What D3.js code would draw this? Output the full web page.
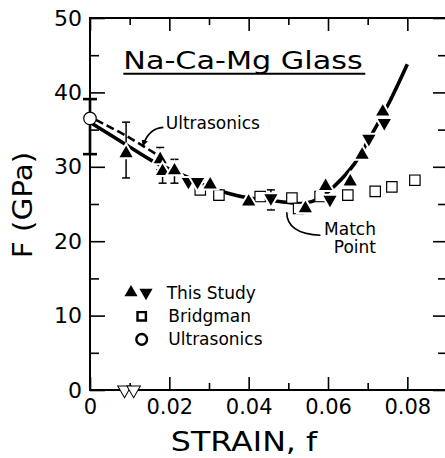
<!DOCTYPE html>
<html>
<head>
<meta charset="utf-8">
<script src="https://cdn.jsdelivr.net/npm/d3@7"></script>
<style>
	body { margin: 0; background: #fff; }
	svg { display: block; font-family: 'DejaVu Sans', sans-serif; }
</style>
</head>
<body>
<div id="js_chart"></div>
<script>
// strain f, F in GPa
const upPoints = [[0.0091, 31.8], [0.0177, 31.0], [0.0183, 29.4], [0.0213, 29.5], [0.0303, 27.6], [0.040, 25.3],
	[0.0543, 24.4], [0.0594, 27.4], [0.0656, 28.0], [0.0686, 31.6], [0.0738, 37.4]];
const downPoints = [[0.0248, 28.0], [0.0271, 28.0], [0.0456, 25.8], [0.0605, 25.6], [0.0703, 33.8], [0.0742, 35.9]];
const zeroPoints = [[0.0087, 0], [0.0110, 0]];
const bridgmanPoints = [[0.0278, 26.9], [0.0325, 26.2], [0.0429, 26.0], [0.0509, 25.8], [0.0526, 24.4], [0.058, 26.0],
	[0.0650, 26.2], [0.0719, 26.7], [0.0761, 27.3], [0.0819, 28.2]];
const ultrasonicPoints = [[0, 36.5]];
// f, low, high
const ultrasonicErrors = [[0, 31.7, 39.1]];
const studyErrors = [[0.0091, 28.5, 36.0], [0.0177, 29.6, 32.6], [0.0183, 27.8, 30.0], [0.0213, 27.8, 31.0], [0.0456, 24.2, 26.9]];
const fitCurve = [[0, 36.0], [0.009, 33.0], [0.016, 30.7], [0.02, 29.7], [0.025, 28.5], [0.03, 27.3], [0.035, 26.4],
	[0.04, 25.8], [0.045, 25.5], [0.05, 25.2], [0.054, 25.1], [0.058, 25.8], [0.062, 27.6], [0.0665, 30.3],
	[0.07, 33.4], [0.075, 38.2], [0.08, 43.8]];
const ultrasonicCurve = [[0.0015, 36.3], [0.009, 34.2], [0.017, 31.6]];
const xMajorTicks = [0, 0.02, 0.04, 0.06, 0.08];
const xMinorTicks = [0.01, 0.03, 0.05, 0.07];
const yMajorTicks = [0, 10, 20, 30, 40, 50];
const yMinorTicks = [5, 15, 25, 35, 45];
const legendLabels = ['This Study', 'Bridgman', 'Ultrasonics'];

const margin = { top: 18, left: 90 };
const innerWidth = 357;
const innerHeight = 372;

const svg = d3.select('#js_chart').append('svg')
	.attr('width', 445)
	.attr('height', 458);

svg.append('defs').append('marker')
	.attr('id', 'arrow')
	.attr('viewBox', '0 0 10 10')
	.attr('refX', 8).attr('refY', 5)
	.attr('markerWidth', 4).attr('markerHeight', 4)
	.attr('orient', 'auto')
	.append('path')
	.attr('d', 'M0,0L10,5L0,10z')
	.style('fill', '#000');

const g = svg.append('g')
	.attr('transform', 'translate(' + margin.left + ',' + margin.top + ')');

const x = d3.scaleLinear().domain([0, 0.09]).range([0, innerWidth]);
const y = d3.scaleLinear().domain([0, 50]).range([innerHeight, 0]);

function drawAxis(axis, transform, labels) {
	const a = g.append('g').attr('transform', transform).call(axis);
	a.select('.domain').remove();
	a.selectAll('line').style('stroke', '#000').style('stroke-width', 1.6);
	if (!labels) {
		a.selectAll('text').remove();
	}
	a.selectAll('text').style('font-family', 'DejaVu Sans').style('font-size', '21px').style('fill', '#000');
	return a;
}
const xFmt = function (d) { return d === 0 ? '0' : d.toFixed(2); };
drawAxis(d3.axisBottom(x).tickValues(xMajorTicks).tickSize(-13).tickPadding(9).tickFormat(xFmt), 'translate(0,' + innerHeight + ')', true);
drawAxis(d3.axisBottom(x).tickValues(xMinorTicks).tickSize(-7), 'translate(0,' + innerHeight + ')', false);
drawAxis(d3.axisTop(x).tickValues(xMajorTicks).tickSize(-13), 'translate(0,0)', false);
drawAxis(d3.axisTop(x).tickValues(xMinorTicks).tickSize(-7), 'translate(0,0)', false);
drawAxis(d3.axisLeft(y).tickValues(yMajorTicks).tickSize(-15).tickPadding(8), 'translate(0,0)', true)
	.selectAll('text').style('font-size', '22px');
drawAxis(d3.axisLeft(y).tickValues(yMinorTicks).tickSize(-9), 'translate(0,0)', false);
drawAxis(d3.axisRight(y).tickValues(yMajorTicks).tickSize(-14), 'translate(' + innerWidth + ',0)', false);
drawAxis(d3.axisRight(y).tickValues(yMinorTicks).tickSize(-9), 'translate(' + innerWidth + ',0)', false);

// frame
g.append('rect')
	.attr('width', innerWidth).attr('height', innerHeight)
	.style('fill', 'none').style('stroke', '#000').style('stroke-width', 2);

// curves
const line = d3.line()
	.x(function (d) { return x(d[0]); })
	.y(function (d) { return y(d[1]); })
	.curve(d3.curveCatmullRom);
g.append('path').datum(fitCurve)
	.attr('d', line)
	.style('fill', 'none').style('stroke', '#000').style('stroke-width', 3.6);
g.append('path').datum(ultrasonicCurve)
	.attr('d', line)
	.style('fill', 'none').style('stroke', '#000').style('stroke-width', 2.6)
	.style('stroke-dasharray', '8,4');

// error bars
function drawErrors(data, capW, sw) {
	const eb = g.selectAll(null).data(data).enter().append('g')
		.style('stroke', '#000').style('stroke-width', sw);
	eb.append('line')
		.attr('x1', function (d) { return x(d[0]); }).attr('x2', function (d) { return x(d[0]); })
		.attr('y1', function (d) { return y(d[1]); }).attr('y2', function (d) { return y(d[2]); });
	[1, 2].forEach(function (k) {
		eb.append('line')
			.attr('x1', function (d) { return x(d[0]) - capW / 2; }).attr('x2', function (d) { return x(d[0]) + capW / 2; })
			.attr('y1', function (d) { return y(d[k]); }).attr('y2', function (d) { return y(d[k]); });
	});
}
drawErrors(studyErrors, 8, 1.5);
drawErrors(ultrasonicErrors, 14, 2.6);

// markers
const triUp = d3.symbol().type(d3.symbolTriangle).size(75);
function drawSymbols(data, path, rotate, fill, stroke, sw) {
	g.selectAll(null).data(data).enter().append('path')
		.attr('d', path)
		.attr('transform', function (d) {
			return 'translate(' + x(d[0]) + ',' + y(d[1]) + ')' + (rotate ? ' rotate(180)' : '');
		})
		.style('fill', fill).style('stroke', stroke).style('stroke-width', sw)
		.style('paint-order', 'stroke');
}
drawSymbols(bridgmanPoints, d3.symbol().type(d3.symbolSquare).size(85), false, '#fff', '#000', 2.4);
drawSymbols(upPoints, triUp, false, '#000', '#fff', 4);
drawSymbols(downPoints, triUp, true, '#000', '#fff', 4);
drawSymbols(zeroPoints, d3.symbol().type(d3.symbolTriangle).size(60), true, '#fff', '#000', 2);
drawSymbols(ultrasonicPoints, d3.symbol().type(d3.symbolCircle).size(100), false, '#fff', '#000', 2.4);

// title, stretched wide like the original lettering
g.append('text')
	.attr('transform', 'translate(' + x(0.0084) + ',' + y(43.15) + ') scale(1.21,1)')
	.style('font-size', '25px').style('fill', '#000')
	.text('Na-Ca-Mg Glass');
g.append('line')
	.attr('x1', x(0.0084)).attr('x2', x(0.0694))
	.attr('y1', y(42.5)).attr('y2', y(42.5))
	.style('stroke', '#000').style('stroke-width', 2);

// annotations
g.append('text')
	.attr('x', x(0.0191)).attr('y', y(35.1))
	.style('font-size', '17px').style('fill', '#000')
	.text('Ultrasonics');
g.append('path')
	.attr('d', 'M' + x(0.0185) + ',' + y(35.3) + 'Q' + x(0.0148) + ',' + y(35.2) + ' ' + x(0.0134) + ',' + y(32.9))
	.attr('marker-end', 'url(#arrow)')
	.style('fill', 'none').style('stroke', '#000').style('stroke-width', 1.6);

g.append('text')
	.attr('x', x(0.0721)).attr('y', y(20.9))
	.attr('text-anchor', 'end')
	.style('font-size', '17px').style('fill', '#000')
	.selectAll('tspan').data(['Match', 'Point']).enter().append('tspan')
	.attr('x', x(0.0721)).attr('dy', function (d, i) { return i ? 18 : 0; })
	.text(function (d) { return d; });
g.append('path')
	.attr('d', 'M' + x(0.0581) + ',' + y(20.8) + 'Q' + x(0.0496) + ',' + y(21.0) + ' ' + x(0.0496) + ',' + y(23.9))
	.style('fill', 'none').style('stroke', '#000').style('stroke-width', 1.6);

// legend
const legendRows = [y(13.1), y(9.9), y(6.8)];
svg.append('path').attr('d', triUp).attr('transform', 'translate(131,' + (margin.top + legendRows[0]) + ')').style('fill', '#000');
svg.append('path').attr('d', triUp).attr('transform', 'translate(146,' + (margin.top + legendRows[0]) + ') rotate(180)').style('fill', '#000');
svg.append('path').attr('d', d3.symbol().type(d3.symbolSquare).size(70))
	.attr('transform', 'translate(141.7,' + (margin.top + legendRows[1]) + ')')
	.style('fill', '#fff').style('stroke', '#000').style('stroke-width', 2.4);
svg.append('path').attr('d', d3.symbol().type(d3.symbolCircle).size(90))
	.attr('transform', 'translate(141.7,' + (margin.top + legendRows[2]) + ')')
	.style('fill', '#fff').style('stroke', '#000').style('stroke-width', 2.4);
svg.selectAll('.legendText').data(legendLabels).enter().append('text')
	.attr('x', function (d, i) { return i ? 168.3 : 166.7; })
	.attr('y', function (d, i) { return margin.top + legendRows[i] + 6; })
	.style('font-size', '17px').style('fill', '#000')
	.text(function (d) { return d; });

// axis titles
svg.append('text')
	.attr('transform', 'translate(31.7,205) rotate(-90) scale(1.09,1)')
	.attr('text-anchor', 'middle')
	.style('font-size', '27px').style('fill', '#000')
	.text('F (GPa)');
svg.append('text')
	.attr('transform', 'translate(244,451) scale(1.22,1)')
	.attr('text-anchor', 'middle')
	.style('font-size', '26px').style('fill', '#000')
	.text('STRAIN, f');
</script>
</body>
</html>
